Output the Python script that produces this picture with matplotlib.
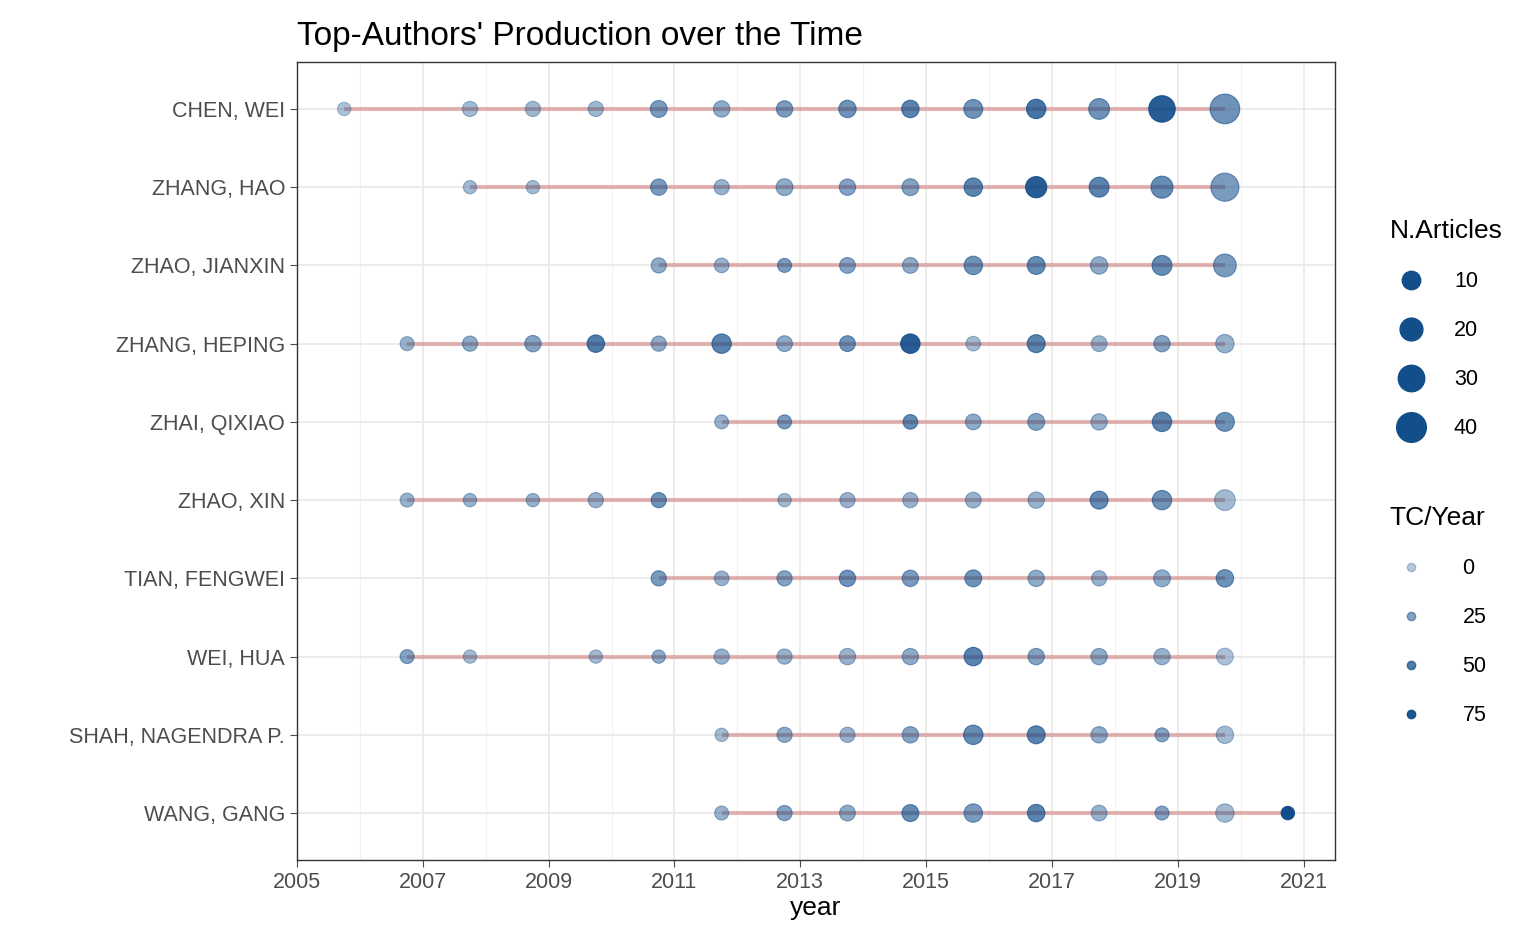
import matplotlib.pyplot as plt
import numpy as np
from matplotlib.lines import Line2D

plt.rcParams['font.family'] = ['Liberation Sans', 'DejaVu Sans']

authors = ["CHEN, WEI", "ZHANG, HAO", "ZHAO, JIANXIN", "ZHANG, HEPING", "ZHAI, QIXIAO",
           "ZHAO, XIN", "TIAN, FENGWEI", "WEI, HUA", "SHAH, NAGENDRA P.", "WANG, GANG"]

years = [
    [2006, 2008, 2009, 2010, 2011, 2012, 2013, 2014, 2015, 2016, 2017, 2018, 2019, 2020],
    [2008, 2009, 2011, 2012, 2013, 2014, 2015, 2016, 2017, 2018, 2019, 2020],
    [2011, 2012, 2013, 2014, 2015, 2016, 2017, 2018, 2019, 2020],
    [2007, 2008, 2009, 2010, 2011, 2012, 2013, 2014, 2015, 2016, 2017, 2018, 2019, 2020],
    [2012, 2013, 2015, 2016, 2017, 2018, 2019, 2020],
    [2007, 2008, 2009, 2010, 2011, 2013, 2014, 2015, 2016, 2017, 2018, 2019, 2020],
    [2011, 2012, 2013, 2014, 2015, 2016, 2017, 2018, 2019, 2020],
    [2007, 2008, 2010, 2011, 2012, 2013, 2014, 2015, 2016, 2017, 2018, 2019, 2020],
    [2012, 2013, 2014, 2015, 2016, 2017, 2018, 2019, 2020],
    [2012, 2013, 2014, 2015, 2016, 2017, 2018, 2019, 2020, 2021],
]
articles = [
    [1, 4, 4, 4, 7, 6, 6, 8, 8, 11, 12, 15, 30, 40],
    [1, 1, 6, 4, 7, 6, 7, 10, 16, 13, 18, 35],
    [4, 3, 2, 5, 5, 10, 9, 8, 13, 20],
    [2, 4, 6, 8, 4, 12, 5, 5, 12, 3, 9, 5, 6, 10],
    [2, 2, 3, 5, 7, 6, 12, 11],
    [2, 1, 1, 4, 4, 1, 4, 4, 5, 6, 9, 12, 15],
    [4, 3, 4, 6, 6, 7, 6, 4, 7, 8],
    [2, 1, 1, 1, 4, 4, 6, 6, 10, 6, 6, 6, 7],
    [1, 4, 4, 6, 12, 9, 6, 2, 8],
    [2, 4, 5, 7, 10, 8, 5, 2, 10, 1],
]
tc_year = [
    [5, 10, 12, 12, 30, 20, 30, 35, 45, 35, 55, 35, 70, 35],
    [10, 10, 30, 15, 20, 25, 25, 45, 70, 45, 40, 30],
    [20, 15, 30, 25, 20, 35, 40, 20, 40, 30],
    [15, 20, 25, 50, 20, 45, 20, 35, 70, 10, 45, 15, 25, 15],
    [15, 30, 40, 20, 25, 15, 45, 35],
    [15, 15, 15, 15, 35, 10, 15, 15, 15, 15, 40, 35, 10],
    [30, 15, 25, 35, 30, 35, 20, 15, 20, 35],
    [25, 10, 10, 20, 15, 15, 15, 20, 45, 25, 20, 15, 5],
    [10, 20, 15, 25, 40, 45, 20, 25, 10],
    [15, 25, 20, 40, 30, 45, 15, 25, 10, 80],
]

BLUE = "#124E8A"


def art_size(n):
    r = np.sqrt(40 + 4.5 * np.asarray(n, dtype=float))  # radius in px
    return (2 * r / 1.389) ** 2


def tc_alpha(t):
    return 0.3 + 0.7 * np.clip(np.asarray(t, dtype=float), 0, 80) / 80


fig = plt.figure(figsize=(15.36, 9.49), dpi=100)
ax = fig.add_axes([297 / 1536, 1 - 860 / 949, (1335 - 297) / 1536, (860 - 62) / 949])

nrow = len(authors)
for i, name in enumerate(authors):
    y = nrow - i
    xs = np.array(years[i]) - 0.25
    ax.plot([xs.min(), xs.max()], [y, y], color="#C0504D", alpha=0.4, lw=3, zorder=2,
            solid_capstyle="butt")
    cols = np.zeros((len(xs), 4))
    cols[:, :3] = plt.matplotlib.colors.to_rgb(BLUE)
    cols[:, 3] = tc_alpha(tc_year[i])
    ax.scatter(xs, [y] * len(xs), s=art_size(articles[i]), c=cols,
               edgecolors=cols, linewidths=0.8, zorder=3)

ax.set_xlim(2005, 2021.5)
ax.set_ylim(0.4, nrow + 0.6)
ax.set_xticks(range(2005, 2022, 2))
ax.set_xticks(range(2006, 2022, 2), minor=True)
ax.set_yticks(range(nrow, 0, -1))
ax.set_yticklabels(authors)
ax.tick_params(labelsize=15.5, colors="#4D4D4D", length=5, which="major")
ax.tick_params(which="minor", length=0)
ax.grid(True, which="major", color="#EBEBEB", lw=1.3)
ax.grid(True, which="minor", axis="x", color="#F2F2F2", lw=0.8)
ax.set_axisbelow(True)
for sp in ax.spines.values():
    sp.set_color("#333333")
    sp.set_linewidth(1)
ax.set_xlabel("year", fontsize=19, labelpad=2)
ax.set_title("Top-Authors' Production over the Time", fontsize=24, loc="left", pad=12)

size_handles = [Line2D([], [], ls="", marker="o", color=BLUE,
                       markersize=np.sqrt(art_size(v)), label=str(v)) for v in [10, 20, 30, 40]]
fig.legend(handles=size_handles, title="N.Articles", loc="upper left",
           bbox_to_anchor=(1370 / 1536, 1 - 200 / 949), frameon=False,
           fontsize=15.5, title_fontsize=19, labelspacing=1.3, handletextpad=1.0,
           alignment="left")
alpha_handles = [Line2D([], [], ls="", marker="o", color=BLUE, alpha=float(tc_alpha(v)),
                        markersize=6, label=str(v)) for v in [0, 25, 50, 75]]
fig.legend(handles=alpha_handles, title="TC/Year", loc="upper left",
           bbox_to_anchor=(1370 / 1536, 1 - 487 / 949), frameon=False,
           fontsize=15.5, title_fontsize=19, labelspacing=1.3, handletextpad=1.4,
           alignment="left")

fig.savefig("out.png", dpi=100)
